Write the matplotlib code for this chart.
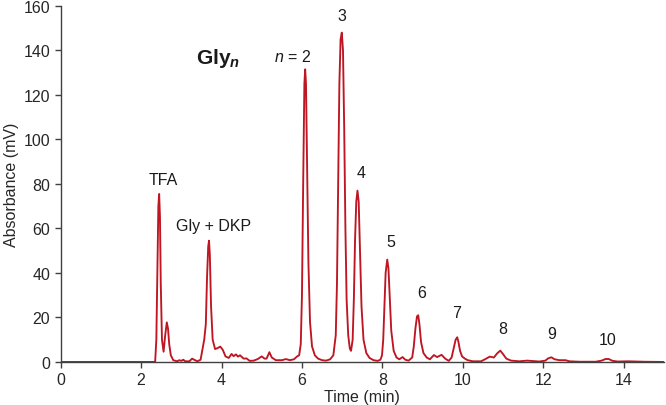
import matplotlib
matplotlib.use("Agg")
import matplotlib.pyplot as plt

# chromatogram trace (time in min, absorbance in mV)
time_min = [
    0.0, 2.33, 2.35, 2.38, 2.41, 2.43, 2.45, 2.47, 2.49, 2.52, 2.56, 2.60, 2.64,
    2.67, 2.70, 2.74, 2.80, 2.90, 2.95, 3.00, 3.05, 3.10, 3.20, 3.27, 3.32, 3.40,
    3.48, 3.53, 3.57, 3.61, 3.64, 3.67, 3.69, 3.71, 3.74, 3.78, 3.84, 3.90, 3.97,
    4.03, 4.10, 4.18, 4.25, 4.30, 4.36, 4.41, 4.46, 4.55, 4.62, 4.70, 4.80, 4.90,
    5.00, 5.07, 5.12, 5.19, 5.25, 5.35, 5.50, 5.60, 5.70, 5.80, 5.88, 5.93, 5.97,
    6.00, 6.03, 6.06, 6.08, 6.10, 6.13, 6.16, 6.20, 6.25, 6.32, 6.40, 6.50, 6.60,
    6.70, 6.78, 6.84, 6.87, 6.90, 6.93, 6.96, 6.99, 7.02, 7.05, 7.08, 7.11, 7.15,
    7.19, 7.22, 7.26, 7.29, 7.32, 7.35, 7.38, 7.41, 7.44, 7.48, 7.53, 7.60, 7.68,
    7.78, 7.88, 7.95, 7.99, 8.02, 8.05, 8.08, 8.12, 8.15, 8.18, 8.22, 8.28, 8.35,
    8.42, 8.50, 8.57, 8.65, 8.74, 8.78, 8.82, 8.86, 8.89, 8.92, 8.96, 9.02, 9.10,
    9.18, 9.28, 9.36, 9.47, 9.56, 9.65, 9.72, 9.77, 9.82, 9.86, 9.89, 9.93, 9.98,
    10.05, 10.12, 10.25, 10.45, 10.55, 10.67, 10.77, 10.85, 10.93, 11.00, 11.08,
    11.20, 11.40, 11.60, 11.75, 11.90, 12.05, 12.12, 12.20, 12.28, 12.40, 12.55,
    12.65, 12.90, 13.30, 13.45, 13.55, 13.63, 13.72, 13.85, 14.10, 14.50, 15.0,
]
absorbance = [
    0.0, 0.0, 0.0, 10, 45, 70, 75.5, 65, 35, 10, 4.6, 12, 17.8,
    15, 8, 3, 0.8, 0.3, 0.8, 0.5, 1.0, 0.3, 0.3, 1.5, 1.0, 0.3,
    1.0, 6, 10, 17, 38, 52, 54.5, 48, 25, 10, 5.8, 6.2, 6.9,
    5.5, 2.5, 1.8, 3.6, 2.6, 3.4, 2.4, 3.0, 1.5, 1.6, 0.5, 0.6, 1.3,
    2.5, 1.5, 1.5, 4.4, 2.0, 0.8, 0.8, 1.3, 0.8, 1.2, 2.5, 3.0, 8,
    30, 80, 125, 131.5, 125, 85, 45, 18, 7, 3, 1.5, 0.8, 0.6,
    1.2, 3, 12, 35, 80, 125, 145, 148, 140, 105, 60, 28, 12,
    6, 5, 10, 28, 55, 72, 77, 72, 52, 25, 10, 4, 1.8,
    0.8, 0.5, 1.0, 3, 10, 25, 40, 46, 42, 30, 14, 5, 2,
    1.2, 2.2, 1.0, 0.6, 2, 7, 15, 20.5, 21, 17, 9, 4, 2,
    1.2, 3.1, 2.2, 3.2, 1.5, 0.5, 2, 6, 10, 11.1, 9, 5, 2.5,
    1.5, 0.8, 0.3, 0.3, 1.2, 2.4, 2.0, 3.8, 5.1, 3.5, 1.5,
    0.6, 0.3, 0.6, 0.4, 0.2, 0.6, 1.6, 2.1, 1.2, 0.8, 0.8,
    0.3, 0.1, 0.1, 0.6, 1.35, 1.3, 0.5, 0.2, 0.3, 0.1, 0.0,
]

# peak labels
peak_labels = ["TFA", "Gly + DKP", "$\\mathit{n}$ = 2", "3", "4", "5", "6", "7", "8", "9", "10"]
label_x = [2.54, 3.80, 5.76, 6.99, 7.46, 8.21, 8.97, 9.84, 10.98, 12.20, 13.61]
label_y = [82.2, 61.3, 137.5, 155.6, 85.3, 54.0, 31.4, 22.4, 15.2, 12.6, 10.3]

plt.rcParams["font.family"] = ["Liberation Sans", "DejaVu Sans"]
plt.rcParams["mathtext.fontset"] = "custom"
plt.rcParams["mathtext.rm"] = "Liberation Sans"
plt.rcParams["mathtext.it"] = "Liberation Sans:italic"
plt.rcParams["mathtext.bf"] = "Liberation Sans:bold"
plt.rcParams["mathtext.bfit"] = "Liberation Sans:bold:italic"

fig = plt.figure(figsize=(6.66, 4.06), dpi=100)
ax = fig.add_axes([0.091, 0.106, 0.906, 0.877])

ax.plot(time_min, absorbance, color="#BE1622", lw=1.35)

ax.set_xlim(0, 15)
ax.set_ylim(0, 160)
ax.set_xticks(range(0, 15, 2))
ax.set_yticks(range(0, 161, 20))
for s in ("top", "right"):
    ax.spines[s].set_visible(False)
for s in ("left", "bottom"):
    ax.spines[s].set_color("#404040")
    ax.spines[s].set_linewidth(1.0)
ax.tick_params(direction="out", length=4, width=1, color="#404040",
               labelsize=11.5, labelcolor="#262626")
ax.set_xlabel("Time (min)", fontsize=11.5, color="#262626", labelpad=1)
ax.set_ylabel("Absorbance (mV)", fontsize=11.5, color="#262626", labelpad=3)

for txt, x, y in zip(peak_labels, label_x, label_y):
    ax.text(x, y, txt, ha="center", va="center", fontsize=11.5, color="#1a1a1a")

ax.text(3.92, 137, r"$\mathbf{Gly}_{\boldsymbol{n}}$", ha="center", va="center",
        fontsize=15, color="#1a1a1a")

fig.savefig("out.png", dpi=100)
